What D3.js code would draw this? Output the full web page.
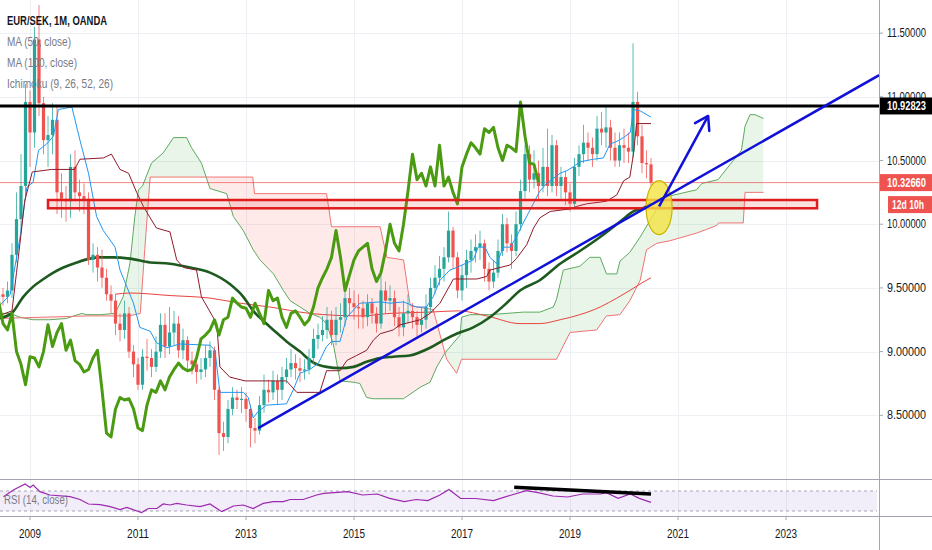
<!DOCTYPE html>
<html lang="en">
<head>
<meta charset="utf-8">
<title>EUR/SEK, 1M, OANDA</title>
<script src="https://d3js.org/d3.v7.min.js"></script>
<style>
  body { margin: 0; background: #fff; }
  svg text { font-family: "Liberation Sans", Arial, sans-serif; }
</style>
</head>
<body>
<div id="chart"></div>
<script>
// x positions are months counted from Jan 2009 (0 = 2009-01)
const firstMonth = -7; // first candle: 2008-06
const months = [];
for (let i = 0; i < 146; i++) {
  const m = firstMonth + i;
  months.push((2009 + Math.floor(m / 12)) + "-" + String(((m % 12) + 12) % 12 + 1).padStart(2, "0"));
}

// monthly candles, 2008-06 .. 2020-07
const opens = [9.40,9.45,9.43,9.48,9.76,10.04,10.30,10.96,10.72,11.45,10.95,10.66,10.70,10.82,10.25,10.20,10.18,10.45,10.25,10.22,10.20,9.72,9.76,9.66,9.58,
  9.45,9.40,9.22,9.17,9.30,9.00,8.90,8.74,8.96,8.95,8.88,9.00,9.21,9.04,9.15,9.22,9.01,9.09,8.93,8.90,8.84,8.86,8.95,9.01,8.70,
  8.36,8.33,8.55,8.64,8.62,8.63,8.55,8.40,8.38,8.58,8.70,8.68,8.77,8.70,8.80,8.86,8.91,8.87,8.85,8.86,8.95,9.10,9.13,9.17,9.25,
  9.13,9.25,9.27,9.42,9.38,9.35,9.34,9.27,9.38,9.30,9.22,9.48,9.40,9.42,9.27,9.19,9.30,9.32,9.27,9.21,9.25,9.35,9.50,9.58,9.65,
  9.74,9.95,9.74,9.48,9.60,9.72,9.79,9.82,9.85,9.65,9.55,9.62,9.79,10.00,9.85,9.79,10.00,10.26,10.55,10.35,10.40,10.30,10.45,10.30,10.62,
  10.30,10.37,10.25,10.16,10.45,10.55,10.64,10.60,10.55,10.75,10.72,10.76,10.60,10.50,10.62,10.60,10.57,10.96,10.69,10.48,10.47];
const highs = [9.52,9.50,9.55,9.85,10.25,10.55,11.10,11.05,11.55,11.72,11.00,10.85,10.95,10.92,10.40,10.30,10.55,10.58,10.35,10.32,10.25,9.85,9.82,9.80,9.65,
  9.52,9.45,9.30,9.40,9.35,9.05,8.95,9.02,9.10,9.02,9.12,9.30,9.30,9.35,9.32,9.28,9.18,9.12,9.00,8.95,8.95,9.05,9.08,9.04,8.72,
  8.45,8.62,8.72,8.70,8.72,8.68,8.58,8.48,8.65,8.82,8.78,8.85,8.82,8.88,8.95,9.02,8.98,8.95,8.94,9.02,9.18,9.22,9.28,9.35,9.32,
  9.35,9.38,9.55,9.50,9.48,9.45,9.40,9.45,9.42,9.35,9.62,9.55,9.52,9.48,9.35,9.40,9.45,9.38,9.32,9.35,9.45,9.58,9.68,9.75,9.82,
  10.10,9.98,9.78,9.68,9.80,9.88,9.92,9.95,9.88,9.70,9.72,9.88,10.08,10.05,9.92,10.10,10.35,10.62,10.62,10.58,10.50,10.60,10.75,10.70,10.66,
  10.45,10.42,10.32,10.52,10.62,10.78,10.72,10.68,10.85,10.88,10.92,10.82,10.72,10.72,10.75,10.72,11.42,11.04,10.78,10.58,10.52];
const lows = [9.33,9.36,9.38,9.42,9.70,9.95,10.22,10.45,10.60,10.85,10.55,10.45,10.55,10.08,10.05,10.02,10.05,10.18,10.10,10.08,9.68,9.62,9.55,9.50,9.40,
  9.30,9.13,9.08,9.10,8.95,8.80,8.70,8.70,8.85,8.80,8.84,8.95,8.95,8.98,9.05,8.95,8.94,8.85,8.82,8.75,8.78,8.80,8.88,8.62,8.19,
  8.22,8.28,8.50,8.55,8.52,8.45,8.25,8.28,8.35,8.52,8.60,8.62,8.58,8.62,8.75,8.80,8.78,8.76,8.78,8.82,8.90,9.02,9.08,9.10,9.05,
  9.05,9.15,9.20,9.28,9.25,9.18,9.18,9.20,9.22,9.15,9.18,9.30,9.32,9.20,9.12,9.12,9.22,9.18,9.12,9.15,9.18,9.30,9.45,9.52,9.55,
  9.70,9.65,9.42,9.40,9.50,9.62,9.70,9.72,9.55,9.48,9.50,9.58,9.75,9.78,9.65,9.75,9.95,10.20,10.25,10.28,10.18,10.25,10.22,10.25,10.22,
  10.20,10.15,10.10,10.12,10.38,10.48,10.50,10.45,10.50,10.62,10.60,10.50,10.45,10.45,10.48,10.48,10.52,10.62,10.40,10.36,10.30];
const closes = [9.45,9.43,9.48,9.76,10.04,10.30,10.96,10.72,11.45,10.95,10.66,10.70,10.82,10.25,10.20,10.18,10.45,10.25,10.22,10.20,9.72,9.76,9.66,9.58,9.45,
  9.40,9.22,9.17,9.30,9.00,8.90,8.74,8.96,8.95,8.88,9.00,9.21,9.04,9.15,9.22,9.01,9.09,8.93,8.90,8.84,8.86,8.95,9.01,8.70,8.36,
  8.33,8.55,8.64,8.62,8.63,8.55,8.40,8.38,8.58,8.70,8.68,8.77,8.70,8.80,8.86,8.91,8.87,8.85,8.86,8.95,9.10,9.13,9.17,9.25,9.13,
  9.25,9.27,9.42,9.38,9.35,9.34,9.27,9.38,9.30,9.22,9.48,9.40,9.42,9.27,9.19,9.30,9.32,9.27,9.21,9.25,9.35,9.50,9.58,9.65,9.74,
  9.95,9.74,9.48,9.60,9.72,9.79,9.82,9.85,9.65,9.55,9.62,9.79,10.00,9.85,9.79,10.00,10.26,10.55,10.35,10.40,10.30,10.45,10.30,10.62,10.30,
  10.37,10.25,10.16,10.45,10.55,10.64,10.60,10.55,10.75,10.72,10.76,10.60,10.50,10.62,10.60,10.57,10.96,10.69,10.48,10.47,10.3266];

// indicator lines: [month, value]
const ma50 = [[-7,9.26],[-4.1,9.30],[-1.5,9.43],[0.7,9.51],[3,9.57],[5.2,9.62],[7.4,9.66],[10.4,9.70],[13.3,9.73],[15.5,9.74],[18.5,9.74],
  [22.2,9.73],[26.7,9.70],[31.1,9.69],[35.6,9.66],[40,9.62],[44.4,9.53],[47.4,9.43],[49.6,9.32],[51.9,9.24],[54.1,9.17],[57,9.08],[60,9.00],
  [62.7,8.92],[65.9,8.88],[68.9,8.87],[71.9,8.88],[74.8,8.92],[77.8,8.95],[80.7,8.96],[84.4,8.97],[88.9,9.03],[91.9,9.09],[94.8,9.14],
  [98.5,9.19],[102.2,9.27],[105.9,9.38],[108.9,9.48],[113.3,9.56],[117.8,9.69],[122.2,9.79],[126.7,9.90],[131.1,10.02],[134.1,10.10],[137,10.14],[138,10.17]];
const ma100 = [[18.9,9.45],[22.2,9.46],[31.1,9.44],[40,9.42],[46.7,9.38],[53.3,9.35],[62.2,9.30],[73.3,9.28],[80,9.30],[88.9,9.31],[95.2,9.32],
  [101.5,9.28],[108.9,9.22],[113.3,9.22],[117.8,9.25],[122.2,9.29],[126.7,9.35],[130.4,9.42],[133.3,9.48],[136,9.54],[138,9.58]];
const tenkan = [[-7,9.35],[-4.4,9.45],[-2.2,9.90],[-0.7,10.29],[0.7,10.33],[1.9,10.58],[3.7,10.63],[5.2,10.69],[6.3,10.90],[9.3,10.92],[11.1,10.66],
  [13,10.40],[14.8,10.06],[16.3,9.95],[18.9,9.82],[20,9.64],[21.5,9.51],[23,9.38],[24.4,9.19],[26.7,9.16],[28.1,9.07],[30.4,9.03],[33.3,9.06],
  [40,9.05],[41.1,9.01],[42.2,8.68],[47.4,8.68],[48.5,8.64],[49.6,8.48],[50.7,8.53],[52.6,8.58],[57,8.59],[58.5,8.70],[60,8.83],[62.2,8.86],
  [64.1,8.91],[65.9,9.04],[67,9.08],[68.9,9.08],[70.4,9.27],[73.3,9.38],[77.8,9.39],[80,9.38],[83,9.39],[85.9,9.35],[88.1,9.35],[89.6,9.43],
  [91.1,9.56],[93.3,9.64],[94.8,9.66],[98.5,9.72],[99.6,9.82],[101.1,9.82],[102.2,9.74],[103.7,9.69],[105.2,9.82],[106.7,9.82],[108.1,9.90],
  [109.6,10.01],[111.1,10.11],[113.3,10.26],[114.8,10.32],[116.3,10.36],[117.8,10.40],[119.3,10.42],[120.7,10.45],[122.2,10.49],[125.2,10.51],
  [127.4,10.52],[128.9,10.63],[130.4,10.65],[131.9,10.68],[133.4,10.72],[134.1,10.90],[135.6,10.89],[138,10.84]];
const kijun = [[-7,9.28],[-4,9.32],[-3,9.62],[-2,9.92],[-1.2,10.18],[0.5,10.41],[4.8,10.43],[9.9,10.43],[11.1,10.51],[16.3,10.52],[18.1,10.55],
  [20,10.43],[21.9,10.40],[23.7,10.25],[25.2,10.14],[26.7,10.05],[28.1,9.97],[31.1,9.94],[32.6,9.72],[34.1,9.66],[37,9.64],[38.1,9.43],
  [41.5,9.22],[42.2,8.88],[44.4,8.80],[47.8,8.77],[57,8.77],[59.3,8.68],[64.4,8.68],[65.9,8.85],[68.9,8.85],[70.4,8.93],[72.6,8.97],[74.8,9.01],
  [76.3,9.09],[77.8,9.14],[80.7,9.17],[82.2,9.21],[86.7,9.25],[88.9,9.30],[91.1,9.38],[94.1,9.57],[99.3,9.57],[101.5,9.59],[102.2,9.64],
  [106.7,9.68],[108.1,9.73],[110.4,9.84],[111.9,9.97],[113.3,10.05],[115.6,10.10],[120,10.12],[121.5,10.14],[123.7,10.16],[128.1,10.18],
  [130.4,10.23],[131.9,10.34],[133.3,10.37],[134.1,10.55],[134.8,10.79],[138,10.79]];
const spanA = [[-7,9.30],[-4.4,9.30],[-2.2,9.27],[0.7,9.25],[4.4,9.25],[8.1,9.26],[11.5,9.30],[12.6,9.29],[15.6,9.29],[18.9,9.30],[20.7,9.43],
  [22.2,9.69],[23.3,10.06],[24.1,10.27],[25,10.30],[27,10.48],[29.6,10.56],[31.9,10.68],[34.8,10.68],[35.9,10.60],[38.1,10.48],[40,10.28],
  [43.7,10.24],[45.2,10.06],[47.4,9.95],[49.6,9.80],[51.1,9.72],[54.1,9.61],[56.3,9.48],[57.8,9.40],[60,9.35],[62.2,9.30],[64.4,9.27],
  [65.9,9.22],[67.4,9.06],[68.9,8.77],[71.9,8.76],[73.3,8.75],[74.8,8.64],[76.3,8.63],[83,8.63],[86.7,8.72],[88.9,8.76],[90.4,8.88],
  [92.2,8.99],[95.6,9.13],[95.9,9.27],[97.8,9.29],[102.2,9.29],[109.6,9.31],[113.3,9.31],[116.3,9.35],[117,9.41],[118.5,9.64],[122.2,9.67],
  [124.4,9.74],[126.7,9.74],[128.1,9.61],[130.4,9.61],[131.1,9.71],[133.3,9.78],[135.6,9.90],[137.8,10.03],[140.7,10.21],[144.4,10.24],
  [148.1,10.27],[149.3,10.32],[152.9,10.35],[155.6,10.47],[158.1,10.58],[158.9,10.77],[160,10.86],[161.1,10.86],[163,10.83]];
const spanB = [[-7,9.26],[12.6,9.28],[22,9.28],[24.5,9.30],[25.5,9.80],[26.7,10.37],[49.5,10.37],[49.9,10.24],[65.9,10.24],[67,9.98],
  [77.8,9.98],[79.3,9.74],[83,9.72],[84.5,9.36],[89.6,9.33],[92.6,8.94],[94.8,8.83],[95.9,8.94],[117,8.94],[120,9.15],[125.9,9.17],
  [128.1,9.28],[131.1,9.29],[133.3,9.40],[135.6,9.56],[137,9.80],[139.3,9.85],[142.2,9.87],[148.1,9.93],[150.4,9.96],[152.6,9.99],
  [153,10.01],[158.5,10.01],[158.9,10.25],[163,10.25]];
const lagShift = 25;

const rsi = [[-5.9,58.6],[-3.7,72],[-1.1,84],[0,77],[0.7,82],[2.2,68.7],[4.4,62],[8.9,58.7],[11.1,53],[13,44],[15.6,42.7],[17.8,38.7],[20,33],
  [21.5,37],[24.8,27],[26.3,35],[28.2,35],[29.6,44],[31.1,42],[32.6,45.3],[34.8,42],[37.8,38.7],[40,44],[42.6,28.7],[45.2,40],[47.4,42],
  [49.6,35],[51.8,45.3],[54.1,48.7],[56.3,48.7],[57.8,53],[60.7,53],[63.7,62],[65.3,65.3],[70.6,68.7],[73.9,62],[77.2,64],[79.9,55.3],
  [83.2,48.7],[85.8,53],[88.4,50.7],[91.1,62],[93.1,73],[95.7,55],[99,55],[103,50.7],[107,62],[110.3,70.7],[112.9,66.7],[116.2,60],
  [119.5,58],[122.8,64],[126.8,64],[128.1,66.7],[130.7,55.3],[133.4,64],[135.4,55.3],[138,47.3]];

// chart drawings
const resistance = 10.92823;
const lastPrice = 10.32660;
const supportBox = { from: 4, to: 174.9, low: 10.125, high: 10.19 };
const trendLine = [[50.7, 8.40], [188.7, 11.17]];
const arrowLine = [[139.8, 10.14], [150.7, 10.85]];
const circleAt = [139.8, 10.13];
const rsiDivergence = [[107.6, 77.4], [138, 64]];

const yearTicks = [2009, 2011, 2013, 2015, 2017, 2019, 2021, 2023];
const priceTicks = [8.5, 9.0, 9.5, 10.0, 10.5, 11.0, 11.5];
const legendLines = ["MA (50, close)", "MA (100, close)", "Ichimoku (9, 26, 52, 26)"];
const legendWidths = [64, 70, 106];

const W = 932, H = 550;
const paneRight = 879, priceBottom = 479, rsiBottom = 516;

const svg = d3.select("#chart").append("svg").attr("width", W).attr("height", H);

const x = d3.scaleLinear().domain([0, 168]).range([30, 786]);
const y = d3.scaleLinear().domain([8.0, 11.76]).range([priceBottom, 0]);
const yRsi = d3.scaleLinear().domain([30, 70]).range([511, 491]);

// the screenshot is horizontally squeezed, so texts are fitted to the widths they take there
function fit(sel, w) {
  return sel.attr("textLength", w).attr("lengthAdjust", "spacingAndGlyphs");
}

const defs = svg.append("defs");
defs.append("clipPath").attr("id", "clipPrice")
  .append("rect").attr("width", paneRight).attr("height", priceBottom);
defs.append("clipPath").attr("id", "clipRsi")
  .append("rect").attr("y", priceBottom).attr("width", paneRight).attr("height", rsiBottom - priceBottom);

// grid
const grid = svg.append("g").attr("stroke", "#eef0f5").attr("stroke-width", 1);
grid.selectAll(".h").data(priceTicks).enter().append("line")
  .attr("x1", 0).attr("x2", paneRight)
  .attr("y1", d => Math.round(y(d)) + 0.5).attr("y2", d => Math.round(y(d)) + 0.5);
grid.selectAll(".v").data(yearTicks).enter().append("line")
  .attr("y1", 0).attr("y2", rsiBottom)
  .attr("x1", d => Math.round(x((d - 2009) * 12)) + 0.5).attr("x2", d => Math.round(x((d - 2009) * 12)) + 0.5);

const price = svg.append("g").attr("clip-path", "url(#clipPrice)");
const line = d3.line().x(d => x(d[0])).y(d => y(d[1]));
const smooth = d3.line().x(d => x(d[0])).y(d => y(d[1])).curve(d3.curveMonotoneX);

// Ichimoku cloud: band between the spans, green where A is above B, red where below
const aPts = spanA.map(d => [x(d[0]), y(d[1])]);
const bPts = spanB.map(d => [x(d[0]), y(d[1])]);
const band = "M" + aPts.join("L") + "L" + bPts.slice().reverse().join("L") + "Z";
const bx0 = bPts[0][0], bx1 = bPts[bPts.length - 1][0];
defs.append("clipPath").attr("id", "aboveB").append("path")
  .attr("d", "M" + bPts.join("L") + `L${bx1},-10L${bx0},-10Z`);
defs.append("clipPath").attr("id", "belowB").append("path")
  .attr("d", "M" + bPts.join("L") + `L${bx1},${priceBottom + 10}L${bx0},${priceBottom + 10}Z`);
price.append("g").attr("clip-path", "url(#aboveB)").append("path")
  .attr("d", band).attr("fill", "rgba(76,175,80,0.13)");
price.append("g").attr("clip-path", "url(#belowB)").append("path")
  .attr("d", band).attr("fill", "rgba(244,67,54,0.11)");
price.append("path").datum(spanA).attr("d", line)
  .attr("fill", "none").attr("stroke", "#5daa5f").attr("stroke-width", 1);
price.append("path").datum(spanB).attr("d", line)
  .attr("fill", "none").attr("stroke", "#f07474").attr("stroke-width", 1);

// moving averages
price.append("path").datum(ma100).attr("d", smooth)
  .attr("fill", "none").attr("stroke", "#e8433f").attr("stroke-width", 1);
price.append("path").datum(ma50).attr("d", smooth)
  .attr("fill", "none").attr("stroke", "#1d5a1f").attr("stroke-width", 2.6);

// last price line
price.append("line").attr("x1", 0).attr("x2", paneRight)
  .attr("y1", y(lastPrice)).attr("y2", y(lastPrice))
  .attr("stroke", "#ef5350").attr("stroke-opacity", 0.7).attr("stroke-width", 1);

// candles
const candles = closes.map((c, i) => ({ m: firstMonth + i, label: months[i], o: opens[i], h: highs[i], l: lows[i], c: c }));
const cg = price.append("g");
cg.selectAll("line.wick").data(candles).enter().append("line")
  .attr("class", "wick")
  .attr("x1", d => x(d.m)).attr("x2", d => x(d.m))
  .attr("y1", d => y(d.h)).attr("y2", d => y(d.l))
  .attr("stroke", d => d.c >= d.o ? "#26a69a" : "#ef5350").attr("stroke-opacity", 0.75).attr("stroke-width", 1);
cg.selectAll("rect").data(candles).enter().append("rect")
  .attr("x", d => x(d.m) - 1.6).attr("width", 3.2)
  .attr("y", d => y(Math.max(d.o, d.c)))
  .attr("height", d => Math.max(1, Math.abs(y(d.o) - y(d.c))))
  .attr("fill", d => d.c >= d.o ? "#26a69a" : "#ef5350");

// Ichimoku conversion, base and lagging lines
price.append("path").datum(tenkan).attr("d", line)
  .attr("fill", "none").attr("stroke", "#2196f3").attr("stroke-width", 1);
price.append("path").datum(kijun).attr("d", line)
  .attr("fill", "none").attr("stroke", "#8e1b2b").attr("stroke-width", 1);
price.append("path").datum(candles.map(d => [d.m - lagShift, d.c])).attr("d", line)
  .attr("fill", "none").attr("stroke", "#4a9a12").attr("stroke-width", 3).attr("stroke-linejoin", "round");

// drawings
price.append("rect")
  .attr("x", x(supportBox.from)).attr("width", x(supportBox.to) - x(supportBox.from))
  .attr("y", y(supportBox.high)).attr("height", y(supportBox.low) - y(supportBox.high))
  .attr("fill", "rgba(239,83,80,0.18)").attr("stroke", "#e01b1b").attr("stroke-width", 2.5);
price.append("line").attr("x1", 0).attr("x2", paneRight)
  .attr("y1", y(resistance)).attr("y2", y(resistance))
  .attr("stroke", "#000").attr("stroke-width", 3);
price.append("ellipse")
  .attr("cx", x(circleAt[0])).attr("cy", y(circleAt[1])).attr("rx", 13).attr("ry", 27)
  .attr("fill", "#f4e442").attr("fill-opacity", 0.8).attr("stroke", "#c9b400").attr("stroke-width", 1.2);
price.append("path").datum(trendLine).attr("d", line)
  .attr("stroke", "#1010d8").attr("stroke-width", 2.5).attr("fill", "none");
price.append("path").datum(arrowLine).attr("d", line)
  .attr("stroke", "#1010d8").attr("stroke-width", 2.5).attr("fill", "none");
{
  const tx = x(arrowLine[1][0]), ty = y(arrowLine[1][1]);
  const ang = Math.atan2(ty - y(arrowLine[0][1]), tx - x(arrowLine[0][0]));
  const len = 15, spread = Math.PI / 5.5;
  const p1 = [tx - len * Math.cos(ang - spread), ty - len * Math.sin(ang - spread)];
  const p2 = [tx - len * Math.cos(ang + spread), ty - len * Math.sin(ang + spread)];
  price.append("path")
    .attr("d", `M${p1}L${tx},${ty}L${p2}`)
    .attr("stroke", "#1010d8").attr("stroke-width", 2.5).attr("fill", "none")
    .attr("stroke-linecap", "round").attr("stroke-linejoin", "round");
}

// legend
fit(svg.append("text").attr("x", 7).attr("y", 20).attr("dominant-baseline", "central")
  .attr("font-size", 13.5).attr("font-weight", "bold").attr("fill", "#131722")
  .text("EUR/SEK, 1M, OANDA"), 100);
svg.selectAll("text.legend").data(legendLines).enter().append("text")
  .attr("class", "legend")
  .attr("x", 7).attr("y", (d, i) => 41 + i * 21).attr("dominant-baseline", "central")
  .attr("font-size", 13.5).attr("fill", "#787b86")
  .attr("textLength", (d, i) => legendWidths[i]).attr("lengthAdjust", "spacingAndGlyphs")
  .text(d => d);

// RSI pane
const rsiG = svg.append("g").attr("clip-path", "url(#clipRsi)");
rsiG.append("rect").attr("x", 0).attr("width", paneRight - 2)
  .attr("y", yRsi(70)).attr("height", yRsi(30) - yRsi(70))
  .attr("fill", "rgba(126,87,194,0.1)");
rsiG.selectAll("line.band").data([70, 30]).enter().append("line")
  .attr("x1", 0).attr("x2", paneRight - 2)
  .attr("y1", d => yRsi(d)).attr("y2", d => yRsi(d))
  .attr("stroke", "#a7a3b5").attr("stroke-dasharray", "3,3").attr("stroke-width", 1);
rsiG.append("path").datum(rsi)
  .attr("d", d3.line().x(d => x(d[0])).y(d => yRsi(d[1])))
  .attr("fill", "none").attr("stroke", "#9c27b0").attr("stroke-width", 1.2);
rsiG.append("path").datum(rsiDivergence)
  .attr("d", d3.line().x(d => x(d[0])).y(d => yRsi(d[1])))
  .attr("stroke", "#000").attr("stroke-width", 3.5);
fit(svg.append("text").attr("x", 4).attr("y", 499).attr("dominant-baseline", "central")
  .attr("font-size", 13).attr("fill", "#787b86").text("RSI (14, close)"), 64);

// pane borders
const border = svg.append("g").attr("stroke", "#a3a6af").attr("stroke-width", 1);
border.append("line").attr("x1", 0).attr("x2", W).attr("y1", priceBottom + 0.5).attr("y2", priceBottom + 0.5);
border.append("line").attr("x1", 0).attr("x2", W).attr("y1", rsiBottom + 0.5).attr("y2", rsiBottom + 0.5);
border.append("line").attr("x1", paneRight + 0.5).attr("x2", paneRight + 0.5).attr("y1", 0).attr("y2", H);

// price scale
const fmt = d3.format(".5f");
const yAxisG = svg.append("g");
yAxisG.selectAll("line").data(priceTicks).enter().append("line")
  .attr("x1", paneRight).attr("x2", paneRight + 4)
  .attr("y1", d => y(d)).attr("y2", d => y(d)).attr("stroke", "#a3a6af");
yAxisG.selectAll("text").data(priceTicks).enter().append("text")
  .attr("x", 887).attr("y", d => y(d)).attr("dominant-baseline", "central")
  .attr("font-size", 12).attr("fill", "#131722")
  .attr("textLength", 39).attr("lengthAdjust", "spacingAndGlyphs")
  .text(d => fmt(d));

function priceLabel(value, text, bg, x0, dy, w) {
  const cy = y(value) + (dy || 0);
  svg.append("rect").attr("x", x0).attr("width", W - x0).attr("y", cy - 8.5).attr("height", 17).attr("fill", bg);
  fit(svg.append("text").attr("x", x0 === paneRight + 1 ? 887 : x0 + 4).attr("y", cy).attr("dominant-baseline", "central")
    .attr("font-size", 12).attr("fill", "#fff").attr("font-weight", "bold").text(text), w);
}
priceLabel(resistance, fmt(resistance), "#000", paneRight + 1, 0, 39);
priceLabel(lastPrice, fmt(lastPrice), "#ef5350", paneRight + 1, 0, 39);
priceLabel(lastPrice, "12d 10h", "#ef5350", 888, 22, 32);

// time scale
const xAxisG = svg.append("g");
xAxisG.selectAll("line").data(yearTicks).enter().append("line")
  .attr("x1", d => x((d - 2009) * 12)).attr("x2", d => x((d - 2009) * 12))
  .attr("y1", rsiBottom).attr("y2", rsiBottom + 4).attr("stroke", "#a3a6af");
xAxisG.selectAll("text").data(yearTicks).enter().append("text")
  .attr("x", d => x((d - 2009) * 12) - 11).attr("y", 534)
  .attr("dominant-baseline", "central").attr("font-size", 12.5).attr("fill", "#131722")
  .attr("textLength", 22).attr("lengthAdjust", "spacingAndGlyphs")
  .text(d => d);
</script>
</body>
</html>
